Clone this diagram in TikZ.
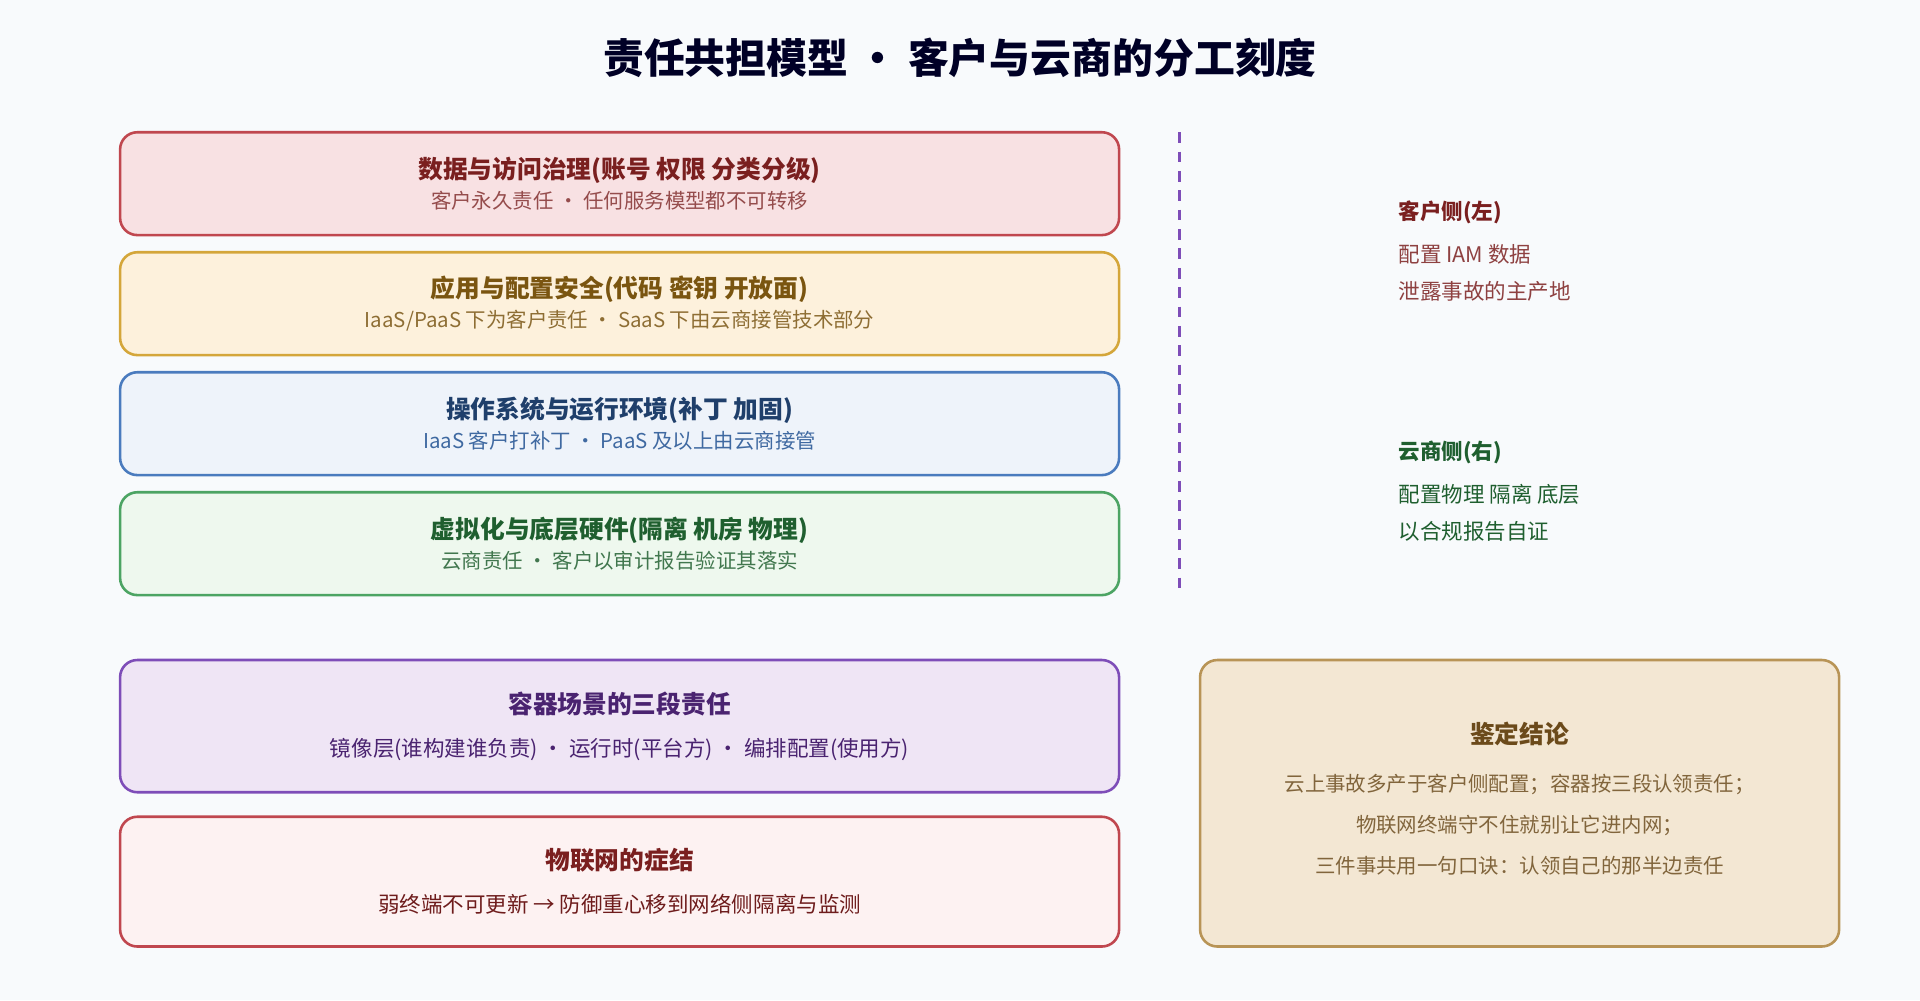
\documentclass[tikz,border=0pt]{standalone}
\usepackage{fontspec}
\setmainfont{Noto Sans CJK SC}
\usetikzlibrary{positioning}
\definecolor{bgc}{HTML}{F8FAFC}
\definecolor{redfill}{HTML}{F8E1E3}\definecolor{redline}{HTML}{C0474F}\definecolor{redtext}{HTML}{7A1F1F}
\definecolor{yelfill}{HTML}{FDF1DC}\definecolor{yelline}{HTML}{D4A63A}\definecolor{yeltext}{HTML}{7A5510}
\definecolor{blufill}{HTML}{EEF3FA}\definecolor{bluline}{HTML}{4A7BBE}\definecolor{blutext}{HTML}{1F3F6B}
\definecolor{grnfill}{HTML}{EEF8EE}\definecolor{grnline}{HTML}{4CA463}\definecolor{grntext}{HTML}{1F5F2F}
\definecolor{purfill}{HTML}{EFE5F5}\definecolor{purline}{HTML}{7E4DB8}\definecolor{purtext}{HTML}{4A2370}
\definecolor{pinkfill}{HTML}{FDF2F2}
\definecolor{tanfill}{HTML}{F3E7D3}\definecolor{tanline}{HTML}{B89456}\definecolor{tantext}{HTML}{6B4A1A}
\begin{document}
\begin{tikzpicture}[
  x=0.02cm, y=-0.02cm,
  layer/.style={draw, line width=1.2pt, rounded corners=8pt, minimum width=16.32cm, minimum height=1.68cm, align=center},
  case/.style ={draw, line width=1.2pt, rounded corners=8pt, minimum width=16.32cm, align=center},
  head/.style ={font=\fontsize{11.5}{14}\selectfont\bfseries},
  sub/.style  ={font=\fontsize{9.5}{12}\selectfont},
  side/.style ={anchor=north west, align=left, font=\fontsize{10}{17}\selectfont}
]
\fill[bgc] (0,0) rectangle (1568,817);

% title
\node[font=\fontsize{19}{22}\selectfont\bfseries, text=black!85!blue] (title) at (784,47) {责任共担模型 · 客户与云商的分工刻度};

% responsibility layers
\node[layer, fill=redfill, draw=redline] (data) at (506,150)
  {\textcolor{redtext}{\fontsize{11.5}{14}\selectfont\bfseries 数据与访问治理(账号 权限 分类分级)}\\[2pt]
   \textcolor{redtext!80}{\fontsize{9.5}{12}\selectfont 客户永久责任 · 任何服务模型都不可转移}};
\node[layer, fill=yelfill, draw=yelline] (app) at (506,248)
  {\textcolor{yeltext}{\fontsize{11.5}{14}\selectfont\bfseries 应用与配置安全(代码 密钥 开放面)}\\[2pt]
   \textcolor{yeltext!85}{\fontsize{9.5}{12}\selectfont IaaS/PaaS 下为客户责任 · SaaS 下由云商接管技术部分}};
\node[layer, fill=blufill, draw=bluline] (os) at (506,346)
  {\textcolor{blutext}{\fontsize{11.5}{14}\selectfont\bfseries 操作系统与运行环境(补丁 加固)}\\[2pt]
   \textcolor{bluline!85!black}{\fontsize{9.5}{12}\selectfont IaaS 客户打补丁 · PaaS 及以上由云商接管}};
\node[layer, fill=grnfill, draw=grnline] (hw) at (506,444)
  {\textcolor{grntext}{\fontsize{11.5}{14}\selectfont\bfseries 虚拟化与底层硬件(隔离 机房 物理)}\\[2pt]
   \textcolor{grntext!85}{\fontsize{9.5}{12}\selectfont 云商责任 · 客户以审计报告验证其落实}};

% divider
\coordinate (divtop) at (963,108);
\coordinate (divbot) at (963,486);
\draw[purline, line width=1.5pt, dashed, dash pattern=on 5pt off 4pt] (divtop) -- (divbot);

% side notes
\node[side, text=redtext] (cust) at (1136,158)
  {\textbf{客户侧(左)}\\[3pt]\textcolor{redtext!85}{配置 IAM 数据}\\\textcolor{redtext!85}{泄露事故的主产地}};
\node[side, text=grntext] (cloud) at (1136,354)
  {\textbf{云商侧(右)}\\[3pt]配置\phantom{}物理 隔离 底层\\以合规报告自证};

% cases
\node[case, fill=purfill, draw=purline, minimum height=2.16cm] (cont) at (506,593)
  {\textcolor{purtext}{\fontsize{11.5}{14}\selectfont\bfseries 容器场景的三段责任}\\[8pt]
   \textcolor{purtext}{\fontsize{10}{12}\selectfont 镜像层(谁构建谁负责) · 运行时(平台方) · 编排配置(使用方)}};
\node[case, fill=pinkfill, draw=redline, minimum height=2.12cm] (iot) at (506,720)
  {\textcolor{redtext}{\fontsize{11.5}{14}\selectfont\bfseries 物联网的症结}\\[8pt]
   \textcolor{redtext!90!black}{\fontsize{10}{12}\selectfont 弱终端不可更新 → 防御重心移到网络侧隔离与监测}};

% verdict
\node[draw=tanline, fill=tanfill, line width=1.2pt, rounded corners=8pt,
      minimum width=10.44cm, minimum height=4.68cm] (verdict) at (1241,656) {};
\node[head, text=tantext, below=26pt of verdict.north] (vhead) {鉴定结论};
\node[font=\fontsize{9.5}{19}\selectfont, text=tantext!85, align=center, below=6pt of vhead] (vtext)
  {云上事故多产于客户侧配置；容器按三段认领责任；\\物联网终端守不住就别让它进内网；\\三件事共用一句口诀：认领自己的那半边责任};
\end{tikzpicture}
\end{document}
